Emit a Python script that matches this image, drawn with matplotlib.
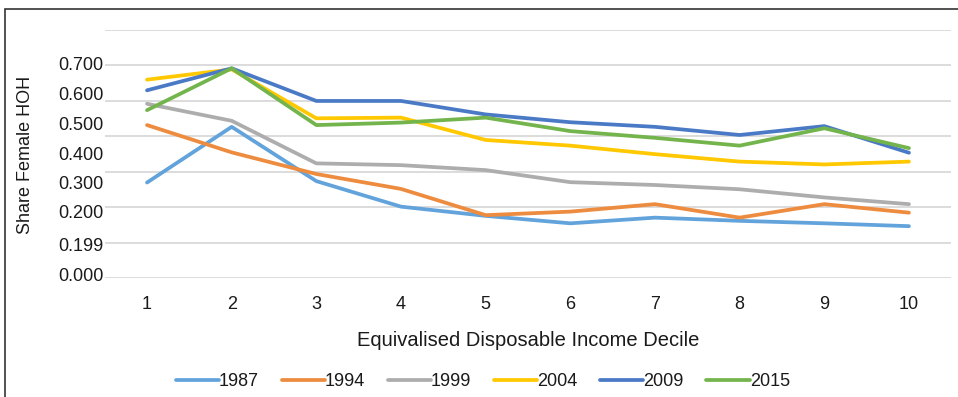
import matplotlib.pyplot as plt
from matplotlib.patches import Rectangle

plt.rcParams['font.family'] = ['Liberation Sans', 'DejaVu Sans']

# share of female heads of household by income decile, per survey year
deciles = [1, 2, 3, 4, 5, 6, 7, 8, 9, 10]
years = ['1987', '1994', '1999', '2004', '2009', '2015']

share_1987 = [0.270, 0.427, 0.274, 0.202, 0.176, 0.155, 0.171, 0.162, 0.155, 0.147]
share_1994 = [0.432, 0.355, 0.294, 0.252, 0.178, 0.188, 0.209, 0.171, 0.209, 0.185]
share_1999 = [0.492, 0.444, 0.324, 0.319, 0.305, 0.271, 0.263, 0.251, 0.228, 0.209]
share_2004 = [0.560, 0.589, 0.451, 0.453, 0.390, 0.374, 0.350, 0.329, 0.321, 0.329]
share_2009 = [0.530, 0.592, 0.500, 0.500, 0.462, 0.440, 0.427, 0.404, 0.429, 0.354]
share_2015 = [0.474, 0.592, 0.432, 0.439, 0.453, 0.415, 0.396, 0.374, 0.423, 0.367]

# axis labels as printed on the chart
ytick_labels = ['0.000', '0.199', '0.200', '0.300', '0.400', '0.500', '0.600', '0.700']
ytick_pos = [0.012, 0.096, 0.188, 0.270, 0.352, 0.437, 0.522, 0.606]
grid_levels = [0.0, 0.1, 0.2, 0.3, 0.4, 0.5, 0.6, 0.7]

colors = ['#62A3DB', '#ED8B3F', '#ADADAD', '#FFC800', '#4A7AC6', '#74B44D']
series = [share_1987, share_1994, share_1999, share_2004, share_2009, share_2015]

fig = plt.figure(figsize=(9.58, 3.97), dpi=100)
ax = fig.add_axes([0.1093, 0.299, 0.8837, 0.6254])

for yr, vals, c in zip(years, series, colors):
    ax.plot(deciles, vals, color=c, lw=2.7, label=yr, solid_capstyle='round',
            solid_joinstyle='round')

ax.set_xlim(0.5, 10.5)
ax.set_ylim(0, 0.7)

ax.set_yticks(grid_levels, minor=True)
ax.set_yticks(ytick_pos)
ax.set_yticklabels(ytick_labels)
ax.grid(which='minor', axis='y', color='#D9D9D9', lw=1.3)
ax.set_axisbelow(True)
ax.set_xticks(deciles)
ax.tick_params(axis='both', which='both', length=0, labelsize=13, colors='#1a1a1a')
ax.tick_params(axis='x', pad=13)
ax.tick_params(axis='y', pad=1)
for sp in ax.spines.values():
    sp.set_visible(False)

ax.set_xlabel('Equivalised Disposable Income Decile', fontsize=14.5, labelpad=13,
              color='#1a1a1a')
ax.set_ylabel('Share Female HOH', fontsize=13, color='#1a1a1a')
ax.yaxis.set_label_coords(-0.0835, 0.495)

ax.legend(loc='center', bbox_to_anchor=(0.4465, -0.4166), ncol=6, frameon=False,
          fontsize=13, handlelength=2.4, handletextpad=0.0, columnspacing=1.25,
          labelcolor='#1a1a1a')

# outer chart frame (cut off at the right and bottom)
fig.patches.append(Rectangle((5 / 958, -0.2), 1.2, 1.2 - 9 / 397,
                             transform=fig.transFigure, fill=False,
                             edgecolor='#333333', lw=1.2))

fig.savefig('out.png', dpi=100)
